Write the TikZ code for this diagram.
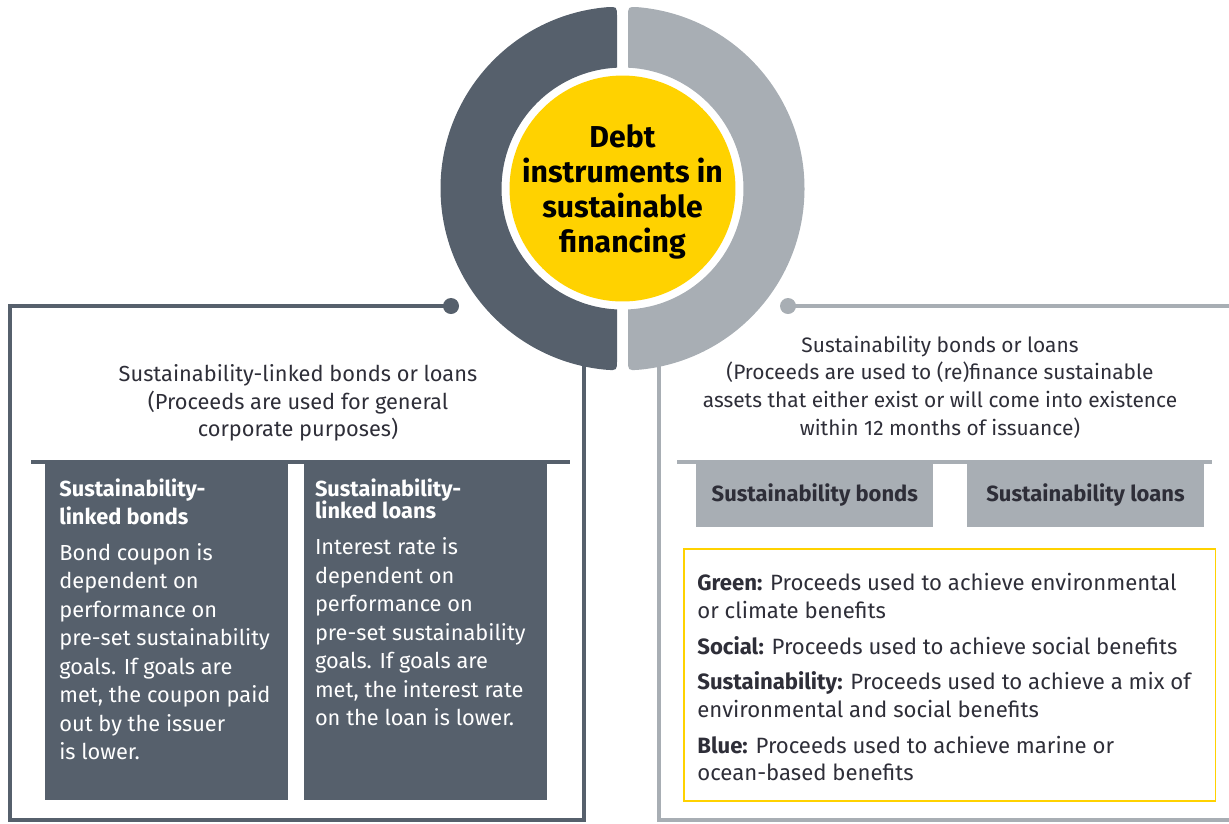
\documentclass[tikz,border=0pt]{standalone}
\usepackage{fontspec}
\setmainfont{Fira Sans}
\usetikzlibrary{positioning}
\definecolor{ringdark}{HTML}{56606C}
\definecolor{ringlight}{HTML}{A8AEB4}
\definecolor{eyyellow}{HTML}{FFD200}
\definecolor{textdark}{HTML}{2E2E38}

\begin{document}
\begin{tikzpicture}[
    x=0.02cm, y=-0.02cm,
    every node/.style={font=\fontsize{12.4}{15.8}\selectfont, text=textdark, inner sep=0pt},
    outline/.style={line width=2.3pt},
    dot/.style={circle, minimum size=0.32cm},
    bar/.style={line width=2.8pt},
    darkbox/.style={rectangle, fill=ringdark, minimum width=4.86cm, minimum height=6.76cm},
    lightbox/.style={rectangle, fill=ringlight, minimum width=4.74cm, minimum height=1.3cm,
      font=\fontsize{12.5}{15.8}\selectfont\bfseries},
    boxtext/.style={align=left, text=white, font=\fontsize{12.4}{16.2}\selectfont}
  ]
  \useasboundingbox (0,0) rectangle (1229,823);

  % frames
  \node[dot, fill=ringdark] (ldot) at (451,306) {};
  \draw[outline, ringdark] (ldot.center) -- (10,306) -- (10,820) -- (584,820) -- (584,340);
  \node[dot, fill=ringlight] (rdot) at (788,306) {};
  \draw[outline, ringlight] (rdot.center) -- (1232,306);
  \draw[outline, ringlight] (659,340) -- (659,820) -- (1232,820);

  % split ring
  \coordinate (c) at (622.5,188.5);
  \fill[ringdark] (617,17) .. controls (617,6.6) .. ([shift={(c)}]265.12:182)
    arc[start angle=265.12, end angle=94.88, radius=182]
    .. controls (617,370.4) .. (617,360) -- (617,309.4)
    arc[start angle=92.61, end angle=267.39, radius=121] -- cycle;
  \fill[ringlight] (628,17) .. controls (628,6.6) .. ([shift={(c)}]274.88:182)
    arc[start angle=274.88, end angle=445.12, radius=182]
    .. controls (628,370.4) .. (628,360) -- (628,309.4)
    arc[start angle=87.39, end angle=-87.39, radius=121] -- cycle;
  \node[circle, fill=eyyellow, minimum size=4.52cm] (hub) at (c) {};
  \node[align=center, text=black, font=\fontsize{17.2}{19.8}\selectfont\bfseries]
    (hubtxt) at (622.5,192) {Debt\\instruments in\\sustainable\\financing};

  % left side
  \node[align=center] (ltitle) at (298,403) {Sustainability-linked bonds or loans\\
    (Proceeds are used for general\\corporate purposes)};
  \draw[bar, ringdark] (31,462) -- (570,462);
  \node[darkbox, anchor=north west] (slbond) at (45,462) {};
  \node[darkbox, right=0.3cm of slbond] (slloan) {};
  \node[boxtext, below right=0.32cm and 0.28cm of slbond.north west] (slbondtxt)
    {\textbf{Sustainability-}\\\textbf{linked bonds}\\[4.2pt]
    Bond coupon is\\dependent on\\performance on\\pre-set sustainability\\
    goals. If goals are\\met, the coupon paid\\out by the issuer\\is lower.};
  \node[boxtext, below right=0.32cm and 0.22cm of slloan.north west] (slloantxt)
    {\textbf{Sustainability-}\\[-3.2pt]\textbf{linked loans}\\[4.2pt]
    Interest rate is\\dependent on\\performance on\\pre-set sustainability\\
    goals. If goals are\\met, the interest rate\\on the loan is lower.};

  % right side
  \node[align=center, font=\fontsize{11.9}{15.8}\selectfont] (rtitle) at (940,387)
    {Sustainability bonds or loans\\
    (Proceeds are used to (re)finance sustainable\\
    assets that either exist or will come into existence\\
    within 12 months of issuance)};
  \draw[bar, ringlight] (677,462) -- (1212,462);
  \node[lightbox, anchor=north west] (sbond) at (696,462) {Sustainability bonds};
  \node[lightbox, right=0.66cm of sbond] (sloan) {Sustainability loans};
  \node[draw=eyyellow, line width=0.9pt, minimum width=10.64cm, minimum height=5.04cm,
    anchor=north west] (types) at (683,548) {};
  \node[align=left, font=\fontsize{12.6}{15.8}\selectfont,
    below right=0.5cm and 0.28cm of types.north west] (typestxt)
    {\textbf{Green:} Proceeds used to achieve environmental\\or climate benefits\\[4.5pt]
    \textbf{Social:} Proceeds used to achieve social benefits\\[4.5pt]
    \textbf{Sustainability:} Proceeds used to achieve a mix of\\
    environmental and social benefits\\[4.5pt]
    \textbf{Blue:} Proceeds used to achieve marine or\\ocean-based benefits};

\end{tikzpicture}
\end{document}
